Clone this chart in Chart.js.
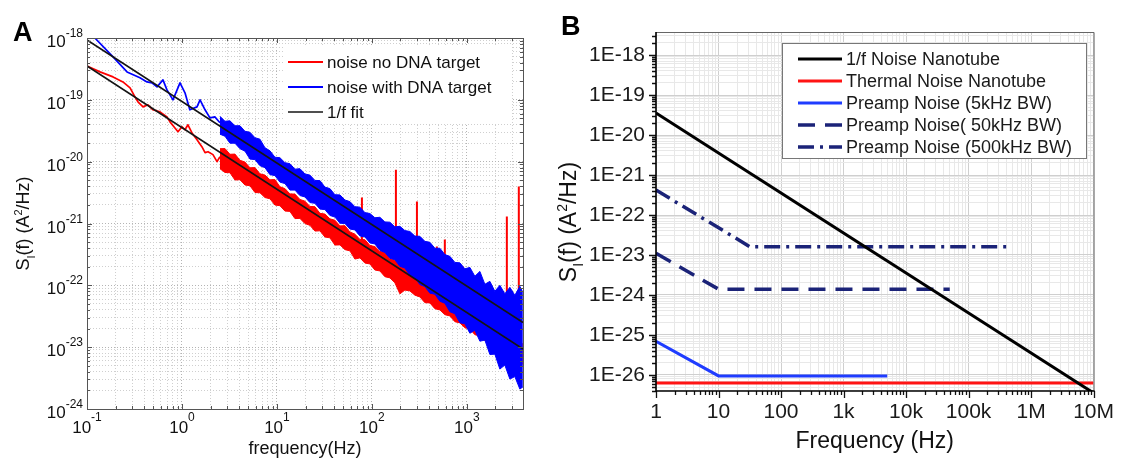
<!DOCTYPE html>
<html>
<head>
<meta charset="utf-8">
<script src="https://cdn.jsdelivr.net/npm/chart.js@4.4.1/dist/chart.umd.min.js"></script>
<style>
  html, body { margin: 0; padding: 0; background: #fff; }
  #wrap { position: relative; width: 1123px; height: 458px; overflow: hidden; }
  #wrap canvas { position: absolute; left: 0; top: 0; }
</style>
</head>
<body>
<div id="wrap">
  <canvas id="chartA" width="1123" height="458"></canvas>
  <canvas id="chartB" width="1123" height="458"></canvas>
</div>
<script>
// ===== Panel A: measured current-noise spectra =====
// Low-frequency part of each spectrum (single trace)
const lowFreqRed = [0.1, 0.137, 0.188, 0.239, 0.284, 0.32, 0.344, 0.389, 0.438, 0.495, 0.587, 0.695, 0.748, 0.844, 0.908, 1.0, 1.076, 1.156, 1.27, 1.44, 1.62, 1.75, 1.88, 2.12, 2.34, 2.512];
const lowPsdRed = [3.53e-19, 2.83e-19, 2.35e-19, 1.95e-19, 1.56e-19, 1.12e-19, 9.3e-20, 7.7e-20, 8.3e-20, 6.9e-20, 6.4e-20, 5.3e-20, 4.4e-20, 3.5e-20, 3.05e-20, 3.67e-20, 3.28e-20, 3.95e-20, 2.94e-20, 2.26e-20, 1.75e-20, 1.4e-20, 1.45e-20, 1.3e-20, 1.0e-20, 1.2e-20];
const lowFreqBlue = [0.1, 0.121, 0.188, 0.264, 0.361, 0.428, 0.483, 0.546, 0.631, 0.695, 0.804, 0.953, 1.076, 1.21, 1.44, 1.55, 1.75, 1.97, 2.22, 2.512];
const lowPsdBlue = [1.3e-18, 1.0e-18, 4.94e-19, 2.83e-19, 2.27e-19, 1.95e-19, 1.88e-19, 1.62e-19, 2.1e-19, 1.45e-19, 1.0e-19, 1.88e-19, 1.3e-19, 6.9e-20, 7.7e-20, 1.0e-19, 6.9e-20, 5.1e-20, 5.3e-20, 4.26e-20];

// Dense high-frequency part: upper / lower envelope of the noise band
const bandFreq = [2.512, 2.836, 3.201, 3.614, 4.08, 4.606, 5.2, 5.87, 6.625, 7.48, 8.44, 9.53, 10.75, 12.14, 13.7, 15.47, 17.46, 19.71, 22.25, 25.12, 28.36, 32.0, 36.1, 40.8, 46.1, 52.0, 58.7, 66.2, 74.8, 84.4, 95.3, 107.5, 121.4, 137, 154.7, 174.6, 197.1, 222.5, 251.2, 283.6, 320.1, 361.4, 407.9, 460.5, 519.8, 586.8, 662.4, 747.8, 844.2, 952.9, 1076, 1214, 1371, 1547, 1747, 1972, 2225, 2512, 2836, 3201, 3614, 3886];
const blueBandUpper = [5.42e-20, 4.50e-20, 4.58e-20, 3.81e-20, 3.81e-20, 3.10e-20, 2.99e-20, 2.44e-20, 2.31e-20, 1.68e-20, 1.50e-20, 1.18e-20, 1.16e-20, 9.63e-21, 9.28e-21, 7.57e-21, 7.71e-21, 6.33e-21, 6.06e-21, 4.98e-21, 4.94e-21, 3.88e-21, 3.67e-21, 2.92e-21, 2.90e-21, 2.40e-21, 2.26e-21, 1.87e-21, 1.84e-21, 1.50e-21, 1.45e-21, 1.24e-21, 1.26e-21, 1.06e-21, 1.05e-21, 8.82e-22, 9.01e-22, 7.68e-22, 7.43e-22, 6.26e-22, 6.21e-22, 5.14e-22, 4.97e-22, 3.98e-22, 3.98e-22, 3.14e-22, 2.94e-22, 2.35e-22, 2.31e-22, 1.85e-22, 1.95e-22, 1.40e-22, 1.68e-22, 1.04e-22, 1.16e-22, 8.0e-23, 1.0e-22, 7.30e-23, 9.29e-23, 6.90e-23, 9.64e-23, 7.71e-23];
const blueBandLower = [2.78e-20, 2.58e-20, 1.99e-20, 1.99e-20, 1.62e-20, 1.48e-20, 1.10e-20, 1.08e-20, 8.62e-21, 8.00e-21, 6.17e-21, 5.95e-21, 4.67e-21, 4.42e-21, 3.47e-21, 3.47e-21, 2.83e-21, 2.69e-21, 2.18e-21, 2.12e-21, 1.71e-21, 1.68e-21, 1.35e-21, 1.27e-21, 1.01e-21, 1.00e-21, 8.15e-22, 7.88e-22, 6.29e-22, 6.06e-22, 4.85e-22, 4.67e-22, 3.67e-22, 3.40e-22, 2.74e-22, 2.60e-22, 2.03e-22, 1.91e-22, 1.45e-22, 1.33e-22, 1.03e-22, 9.56e-23, 7.48e-23, 7.19e-23, 5.54e-23, 5.12e-23, 3.74e-23, 3.47e-23, 2.48e-23, 2.39e-23, 1.68e-23, 1.88e-23, 1.25e-23, 1.30e-23, 7.62e-24, 7.71e-24, 4.42e-24, 5.13e-24, 3.05e-24, 3.34e-24, 2.10e-24, 2.27e-24];
const redBandUpper = [1.62e-20, 1.63e-20, 1.316e-20, 1.327e-20, 1.053e-20, 9.86e-21, 7.95e-21, 8.02e-21, 6.36e-21, 6.07e-21, 5.09e-21, 5.13e-21, 3.93e-21, 3.67e-21, 3.01e-21, 2.99e-21, 2.45e-21, 2.30e-21, 1.89e-21, 1.87e-21, 1.46e-21, 1.42e-21, 1.19e-21, 1.13e-21, 9.14e-22, 9.23e-22, 7.31e-22, 6.73e-22, 5.53e-22, 5.48e-22, 4.42e-22, 4.23e-22, 3.53e-22, 3.43e-22, 2.72e-22, 2.55e-22, 2.10e-22, 2.08e-22, 1.71e-22, 1.60e-22, 1.32e-22, 1.30e-22, 1.03e-22, 9.86e-23, 8.26e-23, 7.87e-23, 6.24e-23, 5.96e-23, 5.00e-23, 4.85e-23, 3.99e-23, 3.74e-23, 3.07e-23, 3.04e-23, 2.45e-23, 2.26e-23, 1.89e-23, 1.84e-23, 1.51e-23, 1.42e-23, 1.17e-23, 1.13e-23];
const redBandLower = [7.69e-21, 6.69e-21, 6.62e-21, 5.05e-21, 5.10e-21, 4.19e-21, 4.08e-21, 3.17e-21, 3.14e-21, 2.63e-21, 2.51e-21, 1.99e-21, 1.94e-21, 1.59e-21, 1.57e-21, 1.20e-21, 1.21e-21, 9.99e-22, 9.35e-22, 7.55e-22, 7.61e-22, 6.04e-22, 5.87e-22, 4.48e-22, 4.51e-22, 3.78e-22, 3.61e-22, 2.66e-22, 2.78e-22, 2.29e-22, 2.22e-22, 1.77e-22, 1.71e-22, 1.38e-22, 1.32e-22, 1.10e-22, 7.28e-23, 8.37e-23, 8.13e-23, 6.94e-23, 6.50e-23, 5.24e-23, 5.20e-23, 4.19e-23, 4.00e-23, 3.35e-23, 3.20e-23, 2.58e-23, 2.47e-23, 2.06e-23, 1.97e-23, 1.59e-23, 1.52e-23, 1.27e-23, 1.21e-23, 9.80e-24, 9.35e-24, 7.83e-24, 7.47e-24, 6.03e-24, 5.75e-24, 5.26e-24];

// Narrow interference lines in the "no target" spectrum
const spikeFreq = [78.5, 179, 298, 483, 586, 908, 2636, 3524];
const spikeTop = [2.63e-21, 7.43e-21, 2.26e-21, 4.26e-22, 5.5e-22, 2.02e-22, 1.3e-21, 3.95e-21];
const spikeBase = [4.5e-22, 2.0e-22, 1.2e-22, 7.2e-23, 6.0e-23, 3.9e-23, 1.3e-23, 1.0e-23];

// 1/f fits (straight lines in log-log)
const fitFreq = [0.1, 3900];
const fitNoTarget = [3.53e-19, 9.35e-24];
const fitWithTarget = [9.3e-19, 2.5e-23];

const seriesNamesA = ['noise no DNA target', 'noise with DNA target', '1/f fit'];
const xTickExpA = [-1, 0, 1, 2, 3];
const yTickExpA = [-24, -23, -22, -21, -20, -19, -18];

// ===== Panel B: noise budget =====
const flickerFreq = [1, 1e7];
const flickerPsd = [3.55e-20, 3.55e-27];
const thermalFreq = [1, 1e7];
const thermalPsd = [6.3e-27, 6.3e-27];
const preamp5kFreq = [1, 10, 5000];
const preamp5kPsd = [7.0e-26, 9.5e-27, 9.5e-27];
const preamp50kFreq = [1, 10, 50000];
const preamp50kPsd = [1.1e-23, 1.4e-24, 1.4e-24];
const preamp500kFreq = [1, 32, 400000];
const preamp500kPsd = [4.2e-22, 1.6e-23, 1.6e-23];

const seriesNamesB = ['1/f Noise Nanotube', 'Thermal Noise Nanotube', 'Preamp Noise (5kHz BW)', 'Preamp Noise( 50kHz BW)', 'Preamp Noise (500kHz BW)'];
const xTickLabelsB = ['1', '10', '100', '1k', '10k', '100k', '1M', '10M'];
const yTickLabelsB = ['1E-26', '1E-25', '1E-24', '1E-23', '1E-22', '1E-21', '1E-20', '1E-19', '1E-18'];

// ===== helpers =====
const FONT = "'Liberation Sans', Arial, Helvetica, sans-serif";
Chart.defaults.font.family = FONT;

const pts = (xs, ys) => xs.map((x, i) => ({ x, y: ys[i] }));

// 1..9 x 10^n ticks inside [min, max]; decades flagged as major
function logTicks(min, max) {
  const out = [];
  const e0 = Math.floor(Math.log10(min) + 1e-9), e1 = Math.ceil(Math.log10(max) - 1e-9);
  for (let e = e0; e <= e1; e++) {
    for (let k = 1; k <= 9; k++) {
      const v = k * Math.pow(10, e);
      if (v >= min * 0.99999 && v <= max * 1.00001) out.push({ value: v, major: k === 1 });
    }
  }
  return out;
}

// text with sub/superscript runs, centred on (cx, cy), optionally rotated
function drawRich(ctx, parts, cx, cy, size, rotate, color) {
  ctx.save();
  ctx.translate(cx, cy);
  if (rotate) ctx.rotate(-Math.PI / 2);
  ctx.fillStyle = color || '#111';
  ctx.textAlign = 'left';
  ctx.textBaseline = 'alphabetic';
  let total = 0;
  const widths = parts.map(p => {
    ctx.font = Math.round(size * (p.s || 1)) + 'px ' + FONT;
    const w = ctx.measureText(p.t).width;
    total += w;
    return w;
  });
  let xx = -total / 2;
  parts.forEach((p, i) => {
    ctx.font = Math.round(size * (p.s || 1)) + 'px ' + FONT;
    ctx.fillText(p.t, xx, size * 0.36 + size * (p.dy || 0));
    xx += widths[i];
  });
  ctx.restore();
}

const siTitle = [{ t: 'S' }, { t: 'I', s: 0.62, dy: 0.28 }, { t: '(f) (A' }, { t: '2', s: 0.62, dy: -0.42 }, { t: '/Hz)' }];

// ===== Panel A chart =====
const RED_A = '#ff0000', BLUE_A = '#0000ff', FIT_A = '#141414';

const spikeData = [];
spikeFreq.forEach((f, i) => {
  spikeData.push({ x: f, y: spikeBase[i] }, { x: f, y: spikeTop[i] }, { x: f, y: null });
});

const panelAPlugin = {
  id: 'panelADecor',
  afterDraw(chart) {
    const { ctx, chartArea: a, scales: { x, y } } = chart;
    ctx.save();
    // axes box
    ctx.strokeStyle = '#555';
    ctx.lineWidth = 1;
    ctx.strokeRect(a.left + 0.5, a.top + 0.5, a.right - a.left, a.bottom - a.top);
    // inward ticks on all four sides
    ctx.beginPath();
    x.ticks.forEach(t => {
      const px = Math.round(x.getPixelForValue(t.value)) + 0.5;
      const L = t.major ? 5 : 3;
      ctx.moveTo(px, a.bottom); ctx.lineTo(px, a.bottom - L);
      ctx.moveTo(px, a.top); ctx.lineTo(px, a.top + L);
    });
    y.ticks.forEach(t => {
      const py = Math.round(y.getPixelForValue(t.value)) + 0.5;
      const L = t.major ? 5 : 3;
      ctx.moveTo(a.left, py); ctx.lineTo(a.left + L, py);
      ctx.moveTo(a.right, py); ctx.lineTo(a.right - L, py);
    });
    ctx.stroke();

    // power-of-ten tick labels
    ctx.fillStyle = '#111';
    ctx.textBaseline = 'alphabetic';
    ctx.textAlign = 'left';
    const baseFont = '17px ' + FONT, supFont = '12px ' + FONT;
    yTickExpA.forEach(e => {
      const py = y.getPixelForValue(Math.pow(10, e));
      const sup = String(e);
      ctx.font = supFont; const sw = ctx.measureText(sup).width;
      ctx.font = baseFont; const bw = ctx.measureText('10').width;
      const right = a.left - 4;
      ctx.fillText('10', right - sw - bw, py + 9);
      ctx.font = supFont;
      ctx.fillText(sup, right - sw, py - 1);
    });
    xTickExpA.forEach(e => {
      const px = x.getPixelForValue(Math.pow(10, e));
      const sup = String(e);
      ctx.font = supFont; const sw = ctx.measureText(sup).width;
      ctx.font = baseFont; const bw = ctx.measureText('10').width;
      const left = px - (bw + sw) / 2;
      ctx.fillText('10', left, a.bottom + 24);
      ctx.font = supFont;
      ctx.fillText(sup, left + bw, a.bottom + 12);
    });

    // axis titles
    drawRich(ctx, [{ t: 'frequency(Hz)' }], (a.left + a.right) / 2, 448, 18, false);
    drawRich(ctx, siTitle, 23, (a.top + a.bottom) / 2, 18, true);

    // legend
    ctx.fillStyle = '#fff';
    ctx.fillRect(284, 47, 228, 77);
    const legendRows = [
      { name: seriesNamesA[0], color: RED_A, w: 2 },
      { name: seriesNamesA[1], color: BLUE_A, w: 2 },
      { name: seriesNamesA[2], color: FIT_A, w: 1.5 }
    ];
    legendRows.forEach((r, i) => {
      const yy = 62 + 25 * i;
      ctx.strokeStyle = r.color; ctx.lineWidth = r.w;
      ctx.beginPath(); ctx.moveTo(288, yy); ctx.lineTo(323, yy); ctx.stroke();
      ctx.fillStyle = '#111';
      ctx.font = '17px ' + FONT;
      ctx.textBaseline = 'middle';
      ctx.fillText(r.name, 327, yy + 1);
    });

    // panel letter
    ctx.textBaseline = 'alphabetic';
    ctx.font = 'bold 27px ' + FONT;
    ctx.fillStyle = '#000';
    ctx.fillText('A', 13, 41);
    ctx.restore();
  }
};

new Chart(document.getElementById('chartA'), {
  type: 'scatter',
  data: {
    datasets: [
      { label: seriesNamesA[2], data: pts(fitFreq, fitWithTarget), borderColor: FIT_A, borderWidth: 1.6 },
      { label: seriesNamesA[2], data: pts(fitFreq, fitNoTarget), borderColor: FIT_A, borderWidth: 1.6 },
      { label: seriesNamesA[1], data: pts(lowFreqBlue, lowPsdBlue), borderColor: BLUE_A, borderWidth: 1.7 },
      { label: seriesNamesA[1], data: pts(bandFreq, blueBandUpper), borderColor: BLUE_A, borderWidth: 1, backgroundColor: BLUE_A, fill: '+1' },
      { label: seriesNamesA[1], data: pts(bandFreq, blueBandLower), borderColor: BLUE_A, borderWidth: 1 },
      { label: seriesNamesA[0], data: spikeData, borderColor: RED_A, borderWidth: 2, spanGaps: false },
      { label: seriesNamesA[0], data: pts(lowFreqRed, lowPsdRed), borderColor: RED_A, borderWidth: 1.7 },
      { label: seriesNamesA[0], data: pts(bandFreq, redBandUpper), borderColor: RED_A, borderWidth: 1, backgroundColor: RED_A, fill: '+1' },
      { label: seriesNamesA[0], data: pts(bandFreq, redBandLower), borderColor: RED_A, borderWidth: 1 }
    ]
  },
  options: {
    responsive: false,
    animation: false,
    devicePixelRatio: 1,
    showLine: true,
    elements: { point: { radius: 0, hoverRadius: 0 }, line: { tension: 0, fill: false, borderJoinStyle: 'round' } },
    layout: { padding: { left: 0, top: 38, right: 600, bottom: 0 } },
    plugins: { legend: { display: false }, tooltip: { enabled: false } },
    events: [],
    scales: {
      x: {
        type: 'logarithmic', min: 0.1, max: 3900, bounds: 'data',
        afterBuildTicks: s => { s.ticks = logTicks(s.min, s.max); },
        afterFit: s => { s.height = 49; },
        ticks: { display: false, autoSkip: false },
        grid: { color: c => (c.tick && c.tick.major ? '#b4b4b4' : '#cfcfcf'), lineWidth: 1, drawTicks: false },
        border: { display: false, dash: [1, 2] }
      },
      y: {
        type: 'logarithmic', min: 1e-24, max: 1e-18, bounds: 'data',
        afterBuildTicks: s => { s.ticks = logTicks(s.min, s.max); },
        afterFit: s => { s.width = 87; },
        ticks: { display: false, autoSkip: false },
        grid: { color: c => (c.tick && c.tick.major ? '#b4b4b4' : '#cfcfcf'), lineWidth: 1, drawTicks: false },
        border: { display: false, dash: [1, 2] }
      }
    }
  },
  plugins: [panelAPlugin]
});

// ===== Panel B chart =====
const BLACK_B = '#000000', RED_B = '#ff1414', BLUE_B = '#1f3cff', NAVY_B = '#1b2378';
const stylesB = [
  { color: BLACK_B, width: 3, dash: [] },
  { color: RED_B, width: 3, dash: [] },
  { color: BLUE_B, width: 3, dash: [] },
  { color: NAVY_B, width: 3.5, dash: [17, 10] },
  { color: NAVY_B, width: 3.5, dash: [16, 6, 3, 6] }
];
const seriesB = [
  pts(flickerFreq, flickerPsd),
  pts(thermalFreq, thermalPsd),
  pts(preamp5kFreq, preamp5kPsd),
  pts(preamp50kFreq, preamp50kPsd),
  pts(preamp500kFreq, preamp500kPsd)
];

const panelBPlugin = {
  id: 'panelBDecor',
  afterDraw(chart) {
    const { ctx, chartArea: a, scales: { x, y } } = chart;
    ctx.save();
    // top / right frame
    ctx.strokeStyle = '#666';
    ctx.lineWidth = 1;
    ctx.beginPath();
    ctx.moveTo(a.left, a.top + 0.5); ctx.lineTo(a.right + 0.5, a.top + 0.5); ctx.lineTo(a.right + 0.5, a.bottom);
    ctx.stroke();
    // outward ticks
    ctx.strokeStyle = '#111';
    ctx.lineWidth = 1.3;
    ctx.beginPath();
    x.ticks.forEach(t => {
      const px = Math.round(x.getPixelForValue(t.value)) + 0.5;
      const L = t.major ? 7 : 4;
      ctx.moveTo(px, a.bottom); ctx.lineTo(px, a.bottom + L);
    });
    y.ticks.forEach(t => {
      const py = Math.round(y.getPixelForValue(t.value)) + 0.5;
      const L = t.major ? 7 : 4;
      ctx.moveTo(a.left, py); ctx.lineTo(a.left - L, py);
    });
    ctx.stroke();
    // left / bottom axis lines
    ctx.strokeStyle = '#000';
    ctx.lineWidth = 1.6;
    ctx.beginPath();
    ctx.moveTo(a.left, a.top); ctx.lineTo(a.left, a.bottom); ctx.lineTo(a.right + 1, a.bottom);
    ctx.stroke();

    // axis titles
    drawRich(ctx, [{ t: 'Frequency (Hz)' }], (a.left + a.right) / 2, 440, 23, false, '#111');
    drawRich(ctx, siTitle, 568, 222, 23, true, '#111');

    // legend
    ctx.fillStyle = '#fff';
    ctx.fillRect(782, 43, 304, 115);
    ctx.strokeStyle = '#777'; ctx.lineWidth = 1;
    ctx.strokeRect(782.5, 43.5, 304, 115);
    seriesNamesB.forEach((name, i) => {
      const yy = 59 + 22 * i;
      const st = stylesB[i];
      ctx.strokeStyle = st.color; ctx.lineWidth = st.width;
      ctx.setLineDash(st.dash);
      ctx.beginPath(); ctx.moveTo(798, yy); ctx.lineTo(842, yy); ctx.stroke();
      ctx.setLineDash([]);
      ctx.fillStyle = '#1a1a1a';
      ctx.font = '18px ' + FONT;
      ctx.textBaseline = 'middle';
      ctx.fillText(name, 846, yy + 1);
    });

    // panel letter
    ctx.textBaseline = 'alphabetic';
    ctx.font = 'bold 27px ' + FONT;
    ctx.fillStyle = '#000';
    ctx.fillText('B', 561, 35);
    ctx.restore();
  }
};

new Chart(document.getElementById('chartB'), {
  type: 'scatter',
  data: {
    datasets: seriesB.map((d, i) => ({
      label: seriesNamesB[i],
      data: d,
      borderColor: stylesB[i].color,
      borderWidth: stylesB[i].width,
      borderDash: stylesB[i].dash
    }))
  },
  options: {
    responsive: false,
    animation: false,
    devicePixelRatio: 1,
    showLine: true,
    elements: { point: { radius: 0, hoverRadius: 0 }, line: { tension: 0, fill: false } },
    layout: { padding: { left: 560, top: 32, right: 24, bottom: 0 } },
    plugins: { legend: { display: false }, tooltip: { enabled: false } },
    events: [],
    scales: {
      x: {
        type: 'logarithmic', min: 1, max: 1e7, bounds: 'data',
        afterBuildTicks: s => { s.ticks = logTicks(s.min, s.max); },
        afterFit: s => { s.height = 67; },
        ticks: {
          autoSkip: false, maxRotation: 0, minRotation: 0, padding: 9,
          color: '#1a1a1a', font: { size: 21 },
          callback: v => {
            const e = Math.log10(v);
            return Math.abs(e - Math.round(e)) < 1e-6 ? xTickLabelsB[Math.round(e)] : '';
          }
        },
        grid: { color: c => (c.tick && c.tick.major ? '#cfcfcf' : '#e8e8e8'), lineWidth: 1, drawTicks: false },
        border: { display: false }
      },
      y: {
        type: 'logarithmic', min: 3.98e-27, max: 3.76e-18, bounds: 'data',
        afterBuildTicks: s => { s.ticks = logTicks(s.min, s.max); },
        afterFit: s => { s.width = 96; },
        ticks: {
          autoSkip: false, padding: 11,
          color: '#1a1a1a', font: { size: 21 },
          callback: v => {
            const e = Math.log10(v);
            return Math.abs(e - Math.round(e)) < 1e-6 ? yTickLabelsB[Math.round(e) + 26] : '';
          }
        },
        grid: { color: c => (c.tick && c.tick.major ? '#cfcfcf' : '#e8e8e8'), lineWidth: 1, drawTicks: false },
        border: { display: false }
      }
    }
  },
  plugins: [panelBPlugin]
});
</script>
</body>
</html>
